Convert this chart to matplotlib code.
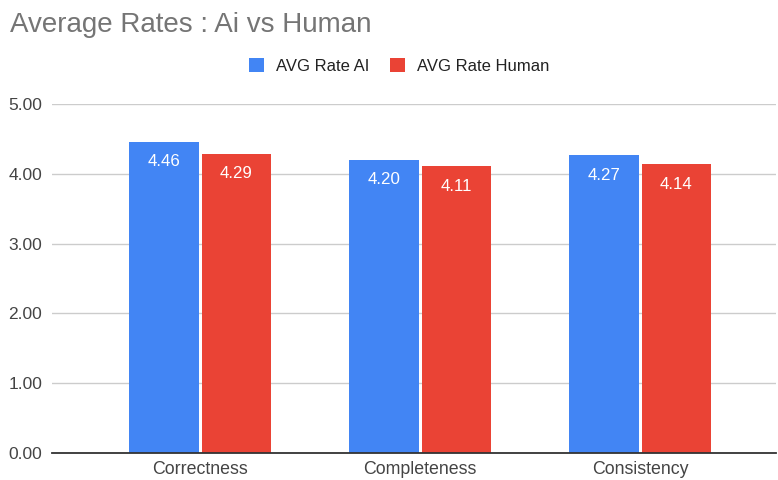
import matplotlib.pyplot as plt
import numpy as np

plt.rcParams['font.family'] = ['Liberation Sans', 'DejaVu Sans']

categories = ['Correctness', 'Completeness', 'Consistency']
avg_ai = [4.46, 4.20, 4.27]
avg_human = [4.29, 4.11, 4.14]
yticks = [0, 1, 2, 3, 4, 5]

blue = '#4285F4'
red = '#EA4335'

fig = plt.figure(figsize=(7.78, 4.8), dpi=100)
ax = fig.add_axes([52 / 778, 27 / 480, 724 / 778, 349 / 480])

x = np.arange(len(categories))
w = 0.314
gap = 0.007
b1 = ax.bar(x - w / 2 - gap, avg_ai, width=w, color=blue, label='AVG Rate AI', zorder=3)
b2 = ax.bar(x + w / 2 + gap, avg_human, width=w, color=red, label='AVG Rate Human', zorder=3)

# value labels inside the top of each bar
for bars in (b1, b2):
    for r in bars:
        ax.annotate(f'{r.get_height():.2f}', (r.get_x() + r.get_width() / 2, r.get_height()),
                    xytext=(0, -14.5), textcoords='offset points', ha='center', va='center',
                    color='white', fontsize=12.2, zorder=4)

ax.set_ylim(0, 5)
ax.set_xlim(-0.673, 2.618)
ax.set_yticks(yticks)
ax.set_yticklabels([f'{v:.2f}' for v in yticks])
ax.set_xticks(x)
ax.set_xticklabels(categories)
ax.tick_params(axis='both', length=0, colors='#444444')
ax.tick_params(axis='y', pad=7, labelsize=12.5)
ax.tick_params(axis='x', pad=6, labelsize=12.8)
ax.grid(axis='y', color='#cccccc', linewidth=1, zorder=0)
for s in ['top', 'right', 'left']:
    ax.spines[s].set_visible(False)
ax.spines['bottom'].set_color('#333333')
ax.spines['bottom'].set_linewidth(1.3)
ax.spines['bottom'].set_zorder(5)

fig.text(10 / 778, 1 - 32 / 480, 'Average Rates : Ai vs Human', fontsize=20,
         color='#757575', ha='left', va='baseline')

fig.legend(handles=[b1, b2], loc='center', bbox_to_anchor=(399 / 778, 1 - 66 / 480),
           ncol=2, frameon=False, fontsize=12, handlelength=0.95, handleheight=0.95,
           columnspacing=1.2, handletextpad=0.7, labelcolor='#222222')

fig.savefig('out.png', dpi=100)
